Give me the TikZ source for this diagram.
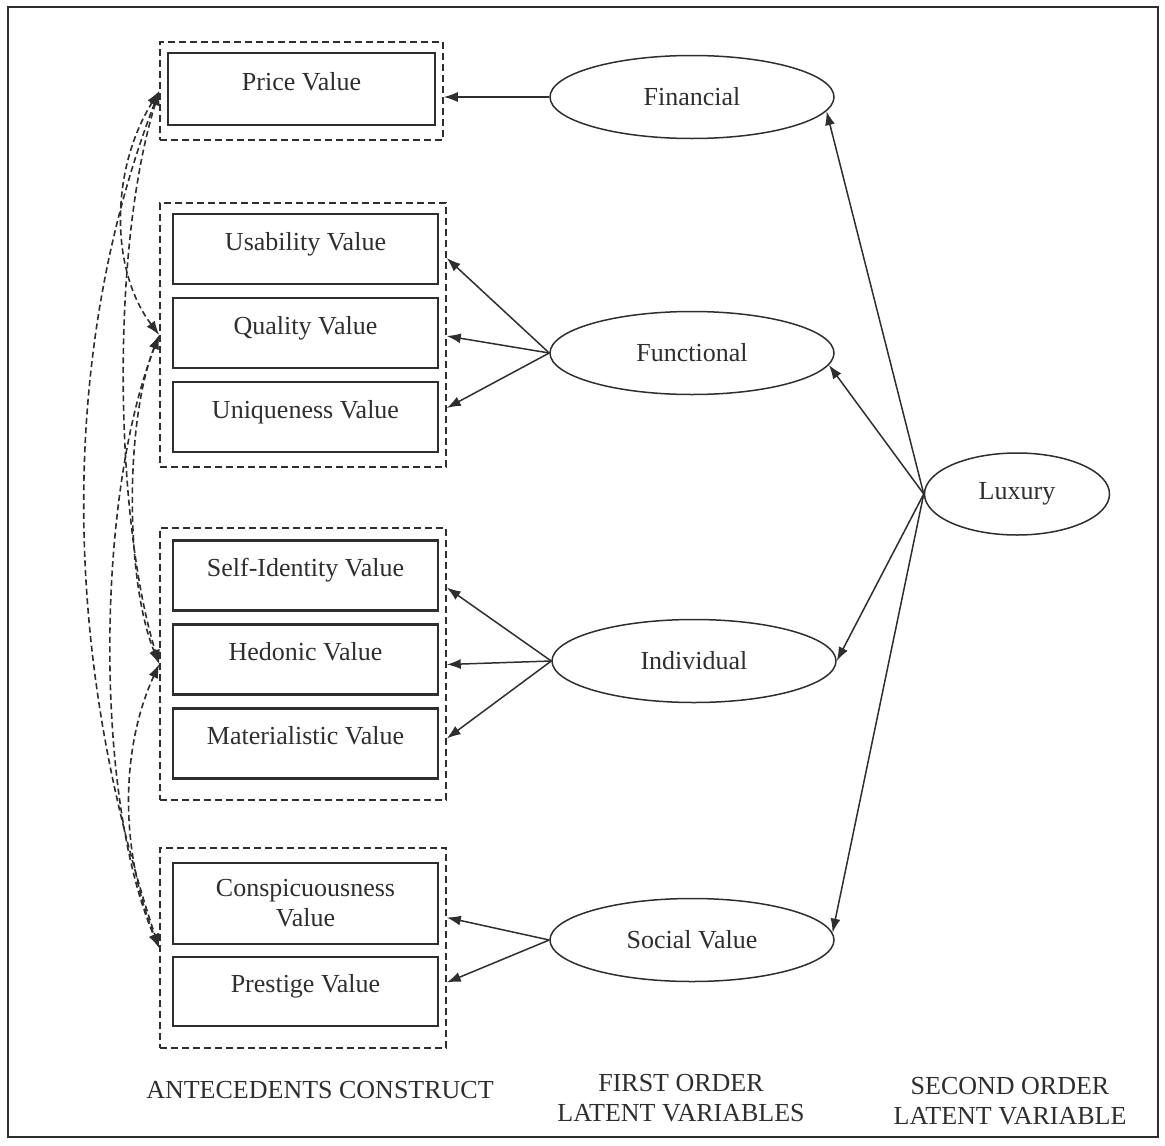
\documentclass[tikz,border=0pt]{standalone}
\usepackage{fontspec}
\setmainfont{Liberation Serif}
\usetikzlibrary{arrows.meta,shapes.geometric,calc}
\definecolor{ink}{gray}{0.18}
\begin{document}
\begin{tikzpicture}[x=1pt,y=-1pt,
  font=\fontsize{26}{30}\selectfont,
  every node/.style={text=ink},
  frame/.style={draw=ink, line width=2pt},
  grp/.style={draw=ink, line width=1.5pt, dash pattern=on 7pt off 4pt, inner sep=0pt},
  boxbase/.style={draw=ink, line width=2.2pt, inner sep=0pt, minimum width=265pt, minimum height=70pt},
  valbox/.style={boxbase, text height=18pt, text depth=16pt},
  latent/.style={draw=ink, ellipse, line width=1.5pt, inner sep=0pt, minimum width=284pt, minimum height=83pt},
  arr/.style={draw=ink, line width=1.5pt, -{Latex[length=14pt,width=10pt]}},
  cov/.style={draw=ink, line width=1.6pt, dash pattern=on 6pt off 3.5pt,
              {Latex[length=14pt,width=10pt]}-{Latex[length=14pt,width=10pt]}},
  caption/.style={align=center}]

\useasboundingbox (0,0) rectangle (1165,1146);
\draw[frame] (8,7) rectangle (1158,1137);

% dashed group frames round the antecedent constructs
\node[grp, minimum width=283pt, minimum height=98pt]  (gP) at (301.5,91) {};
\node[grp, minimum width=286pt, minimum height=264pt] (gF) at (303,335) {};
\node[grp, minimum width=286pt, minimum height=272pt] (gI) at (303,664) {};
\node[grp, minimum width=286pt, minimum height=200pt] (gS) at (303,948) {};

% antecedent value boxes
\node[valbox, minimum width=267pt, minimum height=72pt] (price) at (301.5,89) {Price Value};
\node[valbox] (usab) at (305.5,249) {Usability Value};
\node[valbox] (qual) at (305.5,333) {Quality Value};
\node[valbox] (uniq) at (305.5,417) {Uniqueness Value};
\node[valbox] (self) at (305.5,575.5) {Self-Identity Value};
\node[valbox] (hedo) at (305.5,659.5) {Hedonic Value};
\node[valbox] (mate) at (305.5,743.5) {Materialistic Value};
\node[boxbase, minimum height=81pt, align=center] (consp) at (305.5,903.5) {Conspicuousness\\Value};
\node[valbox, minimum height=69pt] (prest) at (305.5,991.5) {Prestige Value};

% first and second order latent variables
\node[latent] (fin) at (692,97)  {Financial};
\node[latent] (fun) at (692,353) {Functional};
\node[latent] (ind) at (694,661) {Individual};
\node[latent] (soc) at (692,940) {Social Value};
\node[latent, minimum width=185pt, minimum height=82pt] (lux) at (1017,494) {Luxury};

% loadings of the first order variables
\draw[arr] (fin.west) -- (fin.west -| gP.east);
\draw[arr] (fun.west) -- ($(usab.east -| gF.east)+(0,9)$);
\draw[arr] (fun.west) -- ($(qual.east -| gF.east)+(0,3)$);
\draw[arr] (fun.west) -- ($(uniq.east -| gF.east)+(0,-9)$);
\draw[arr] (ind.west) -- ($(self.east -| gI.east)+(0,12)$);
\draw[arr] (ind.west) -- ($(hedo.east -| gI.east)+(0,5)$);
\draw[arr] (ind.west) -- ($(mate.east -| gI.east)+(0,-5)$);
\draw[arr] (soc.west) -- ($(consp.east -| gS.east)+(0,14)$);
\draw[arr] (soc.west) -- ($(prest.east -| gS.east)+(0,-9)$);

% second order loadings
\draw[arr] (lux.west) -- (fin.-6);
\draw[arr] (lux.west) -- (fun.-5);
\draw[arr] (lux.west) -- (ind.east);
\draw[arr] (lux.west) -- (soc.3);

% correlations between the antecedent groups
\draw[cov] (gP.west) .. controls (110,170) and (110,270) .. (gF.west);
\draw[cov] (gP.west) .. controls (110,250) and (115,520) .. (gI.west);
\draw[cov] (gP.west) .. controls (60,350) and (60,650) .. (gS.west);
\draw[cov] (gF.west) .. controls (125,420) and (125,580) .. (gI.west);
\draw[cov] (gF.west) .. controls (95,500) and (95,800) .. (gS.west);
\draw[cov] (gI.west) .. controls (120,750) and (120,850) .. (gS.west);

% column captions
\node[caption] (capA) at (320,1090) {ANTECEDENTS CONSTRUCT};
\node[caption] (capB) at (681,1098) {FIRST ORDER\\LATENT VARIABLES};
\node[caption] (capC) at (1010,1101) {SECOND ORDER\\LATENT VARIABLE};
\end{tikzpicture}
\end{document}
